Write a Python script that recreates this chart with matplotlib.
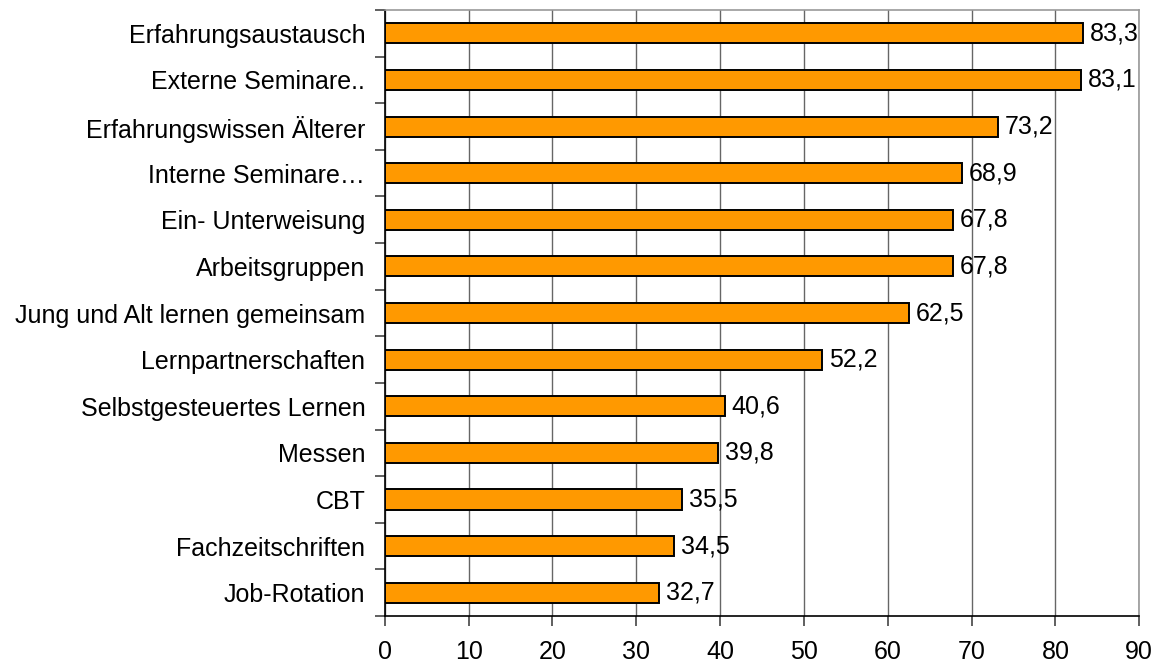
import matplotlib.pyplot as plt
import numpy as np

plt.rcParams["font.family"] = ["Liberation Sans", "DejaVu Sans"]

categories = [
    "Erfahrungsaustausch",
    "Externe Seminare..",
    "Erfahrungswissen Älterer",
    "Interne Seminare…",
    "Ein- Unterweisung",
    "Arbeitsgruppen",
    "Jung und Alt lernen gemeinsam",
    "Lernpartnerschaften",
    "Selbstgesteuertes Lernen",
    "Messen",
    "CBT",
    "Fachzeitschriften",
    "Job-Rotation",
]
values = [83.3, 83.1, 73.2, 68.9, 67.8, 67.8, 62.5, 52.2, 40.6, 39.8, 35.5, 34.5, 32.7]
xticks = list(range(0, 100, 10))

fig = plt.figure(figsize=(11.59, 6.66), dpi=100)
ax = fig.add_axes([0.332, 0.075, 0.651, 0.91])

n = len(categories)
y = np.arange(n)[::-1]
ax.barh(y, values, height=0.43, color="#FF9900", edgecolor="black", linewidth=1.4, zorder=3)

for yi, v in zip(y, values):
    ax.text(v + 0.8, yi, f"{v:.1f}".replace(".", ","), va="center", ha="left", fontsize=18, zorder=4)

ax.set_xlim(0, 90)
ax.set_ylim(-0.5, n - 0.5)
ax.set_xticks(xticks)
ax.set_xticklabels([str(t) for t in xticks], fontsize=18)
ax.set_yticks(y)
ax.set_yticklabels(categories, fontsize=18)
ax.set_yticks(np.arange(-0.5, n, 1.0), minor=True)
ax.tick_params(axis="y", which="major", length=0, pad=14)
ax.tick_params(axis="y", which="minor", length=7, width=1.2, direction="out", color="#444444")
ax.tick_params(axis="x", which="major", length=7, width=1.2, direction="out", pad=10, color="#444444")

ax.grid(axis="x", color="#666666", linewidth=1.0, zorder=0)
ax.set_axisbelow(True)
for side in ["top", "right"]:
    ax.spines[side].set_color("#999999")
    ax.spines[side].set_linewidth(1.2)
for side in ["left", "bottom"]:
    ax.spines[side].set_color("black")
    ax.spines[side].set_linewidth(1.2)

fig.savefig("out.png", dpi=100)
